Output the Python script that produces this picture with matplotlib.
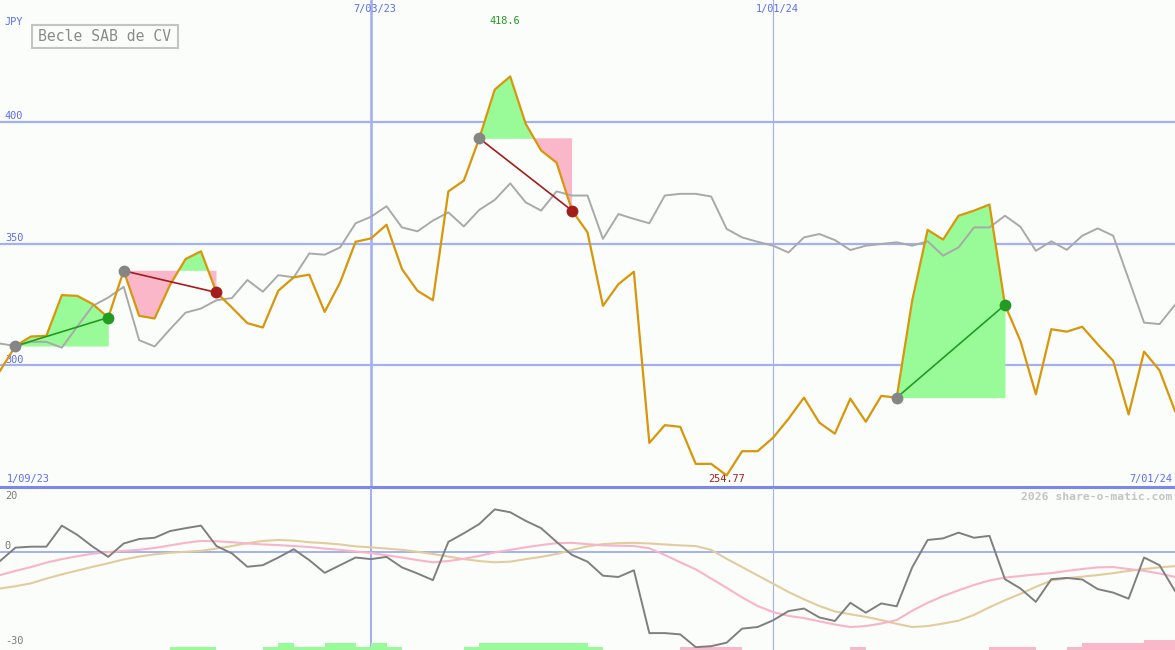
import numpy as np
import matplotlib.pyplot as plt
from matplotlib.patches import Rectangle

# weekly closes (JPY), index 0 = mid Jan 2023, one point per week
price = [297.7, 307.9, 311.8, 312.1, 328.8, 328.5, 325.1, 319.6, 338.8, 320.3,
         319.2, 333.0, 343.6, 346.8, 329.9, 323.7, 317.3, 315.5, 330.6, 336.1,
         337.2, 321.9, 334.0, 350.7, 352.1, 357.7, 339.5, 330.6, 326.7, 371.4,
         375.8, 393.2, 413.2, 418.6, 399.2, 388.2, 383.2, 363.5, 354.6, 324.4,
         333.3, 338.4, 268.1, 275.4, 274.7, 259.5, 259.5, 254.77, 264.7, 264.7,
         270.2, 278.0, 286.7, 276.4, 271.9, 286.3, 276.8, 287.4, 286.7, 326.5,
         355.6, 351.6, 361.4, 363.5, 366.0, 324.8, 310.0, 288.1, 314.8, 313.8,
         315.8, 308.6, 301.8, 279.8, 305.6, 297.9, 281.2]

# comparison line (grey)
bench = [308.9, 307.9, 309.6, 309.6, 307.2, 315.9, 324.4, 327.8, 332.2, 310.3,
         307.7, 314.8, 321.6, 323.3, 326.7, 327.6, 335.0, 330.2, 337.0, 336.1,
         345.9, 345.4, 348.4, 358.3, 361.0, 365.3, 356.6, 355.0, 359.4, 362.8,
         357.0, 363.8, 367.9, 374.7, 366.9, 363.5, 371.4, 369.7, 369.7, 351.9,
         362.1, 360.1, 358.3, 369.7, 370.4, 370.4, 369.3, 356.0, 352.5, 350.7,
         349.1, 346.3, 352.5, 353.9, 351.4, 347.3, 349.1, 349.8, 350.5, 349.1,
         350.9, 345.0, 348.4, 356.6, 356.6, 361.4, 356.9, 347.0, 350.9, 347.4,
         353.2, 356.2, 353.2, 335.4, 317.5, 316.9, 324.8]

# lower panel: momentum (dark grey) and two smoothed lines
momentum = [-2.9, 1.3, 1.6, 1.6, 8.2, 5.3, 1.6, -1.6, 2.6, 4.0,
            4.4, 6.5, 7.4, 8.2, 1.8, -0.5, -4.7, -4.2, -1.8, 0.8,
            -2.6, -6.6, -4.2, -1.8, -2.3, -1.6, -4.9, -6.8, -8.9, 3.1,
            5.8, 8.7, 13.3, 12.4, 9.7, 7.4, 3.1, -1.0, -3.1, -7.5,
            -7.9, -5.8, -25.5, -25.5, -25.9, -29.9, -29.6, -28.5, -24.1, -23.6,
            -21.5, -18.6, -17.8, -20.6, -21.7, -16.0, -19.1, -16.2, -17.1, -4.9,
            3.7, 4.2, 6.0, 4.4, 5.0, -8.6, -11.5, -15.7, -8.6, -8.2,
            -8.7, -11.7, -12.8, -14.7, -1.8, -4.2, -12.3]
smooth_pink = [-7.3, -6.0, -4.8, -3.4, -2.3, -1.4, -0.6, -0.1, 0.3, 0.6,
               1.2, 2.0, 2.8, 3.4, 3.3, 3.0, 2.6, 2.3, 2.1, 1.8,
               1.5, 1.0, 0.6, 0.1, -0.4, -1.1, -1.8, -2.6, -3.3, -2.9,
               -2.2, -1.3, -0.2, 0.6, 1.4, 2.1, 2.7, 2.8, 2.4, 2.0,
               1.9, 1.8, 1.1, -1.0, -3.3, -5.5, -8.4, -11.3, -14.3, -17.0,
               -18.9, -20.1, -20.8, -21.8, -22.8, -23.6, -23.3, -22.5, -21.4, -18.5,
               -16.0, -13.9, -12.1, -10.4, -9.0, -8.1, -7.6, -7.1, -6.7, -6.0,
               -5.4, -4.9, -4.8, -5.4, -6.0, -6.8, -7.9]
smooth_tan = [-11.5, -10.8, -9.9, -8.4, -7.1, -5.9, -4.7, -3.6, -2.4, -1.5,
              -0.8, -0.3, 0.0, 0.3, 1.0, 1.8, 2.7, 3.4, 3.7, 3.5,
              3.0, 2.7, 2.3, 1.7, 1.4, 1.0, 0.6, 0.0, -0.7, -1.5,
              -2.3, -2.9, -3.3, -3.1, -2.3, -1.6, -0.7, 0.6, 1.7, 2.4,
              2.7, 2.8, 2.6, 2.3, 2.0, 1.8, 0.6, -2.2, -4.8, -7.4,
              -10.0, -12.6, -14.9, -17.0, -18.7, -19.6, -20.4, -21.4, -22.6, -23.6,
              -23.3, -22.5, -21.6, -19.8, -17.4, -15.2, -13.2, -11.0, -9.0, -8.3,
              -7.8, -7.3, -6.7, -6.0, -5.4, -4.9, -4.5]

# signal bars at the bottom (+ green / - pink), one per week
signal = [0, 0, 0, 0, 0, 0, 0, 0, 0, 0,
          0, 1, 1, 1, 0, 0, 0, 1, 2, 1,
          1, 2, 2, 1, 2, 1, 0, 0, 0, 0,
          1, 2, 2, 2, 2, 2, 2, 2, 1, 0,
          0, 0, 0, 0, -1, -1, -1, -1, 0, 0,
          0, 0, 0, 0, 0, -1, 0, 0, 0, 0,
          0, 0, 0, 0, -1, -1, -1, 0, 0, -1,
          -2, -2, -2, -2, -3, -3]

# trades: entry week, exit week
trade_start = [1, 8, 31, 58]
trade_end = [7, 14, 37, 65]

date_labels = ['7/03/23', '1/01/24']
date_idx = [24, 50]

x = np.arange(len(price))
price = np.array(price)

blue = '#a3b1f2'
blue_txt = '#5c6cf0'
green_fill = '#98fb98'
pink_fill = '#f9b7c9'
dark_red = '#a51c1c'
dark_green = '#239b23'
mono = 'DejaVu Sans Mono'

fig = plt.figure(figsize=(11.75, 6.5), dpi=100, facecolor='#fbfdfb')
ax = fig.add_axes([0, 163 / 650, 1, 487 / 650])
ax2 = fig.add_axes([0, 0, 1, 162 / 650])
for a in (ax, ax2):
    a.set_facecolor('#fbfdfb')
    a.set_xlim(0, 76)
    a.axis('off')
ax.set_ylim(250, 450)
ax2.set_ylim(-30.8, 20)

# grid
for lvl in [300, 350, 400]:
    ax.axhline(lvl, color=blue, lw=1.6, zorder=1)
ax.axvline(date_idx[0], color=blue, lw=1.9, zorder=1)
ax.axvline(date_idx[1], color=blue, lw=0.8, zorder=1)
ax.axhline(250, color='#7a88ec', lw=2.2, zorder=6, clip_on=False)

# trade fills
for s, e in zip(trade_start, trade_end):
    xs = x[s:e + 1]
    ys = price[s:e + 1]
    base = price[s]
    ax.fill_between(xs, ys, base, where=ys >= base, interpolate=True,
                    color=green_fill, lw=0, zorder=2)
    ax.fill_between(xs, ys, base, where=ys <= base, interpolate=True,
                    color=pink_fill, lw=0, zorder=2)

ax.plot(x, bench, color='#a9a9a9', lw=1.4, zorder=3)
ax.plot(x, price, color='#d8960a', lw=1.6, zorder=4)

for s, e in zip(trade_start, trade_end):
    c = dark_green if price[e] >= price[s] else dark_red
    ax.plot([s, e], [price[s], price[e]], color=c, lw=1.2, zorder=5)
    ax.plot(s, price[s], 'o', color='#858585', ms=8.5, mec='none', zorder=6)
    ax.plot(e, price[e], 'o', color=c, ms=8.5, mec='none', zorder=6)

# max / min labels
imax = int(np.argmax(price))
imin = int(np.argmin(price))
ax.annotate(f'{price[imax]:g}', (imax, 1), xycoords=('data', 'axes fraction'),
            xytext=(-4, -15), textcoords='offset points', ha='center', va='center',
            color=dark_green, fontsize=7.4, family=mono)
ax.annotate(f'{price[imin]:g}', (imin, 250), xytext=(0, 6), textcoords='offset points',
            ha='center', va='center', color=dark_red, fontsize=7.4, family=mono)

# axis labels
for lvl in [300, 350, 400]:
    ax.annotate(str(lvl), (0, lvl), xytext=(3.5, 4), textcoords='offset points',
                ha='left', va='center', color=blue_txt, fontsize=7.4, family=mono)
ax.annotate('JPY', (0, 1), xycoords='axes fraction', xytext=(3.5, -15.5),
            textcoords='offset points', ha='left', va='center', color=blue_txt,
            fontsize=7.4, family=mono)
for d, lab in zip(date_idx, date_labels):
    ax.annotate(lab, (d, 1), xycoords=('data', 'axes fraction'), xytext=(3, -6.5),
                textcoords='offset points', ha='center', va='center', color=blue_txt,
                fontsize=7.4, family=mono)
ax.annotate('1/09/23', (0, 250), xytext=(5, 5.5), textcoords='offset points',
            ha='left', va='center', color=blue_txt, fontsize=7.4, family=mono)
ax.annotate('7/01/24', (76, 250), xytext=(-2, 5.5), textcoords='offset points',
            ha='right', va='center', color=blue_txt, fontsize=7.4, family=mono)

# title box
ax.add_patch(Rectangle((32 / 1175, 1 - 48 / 487), 146 / 1175, 23 / 487,
                       transform=ax.transAxes, fill=False, ec='#c4c4c4', lw=1.5,
                       zorder=7))
ax.text(105 / 1175, 1 - 36.5 / 487, 'Becle SAB de CV', transform=ax.transAxes,
        ha='center', va='center', color='#8a8a8a', fontsize=10.6, family=mono,
        zorder=7)

# lower panel
ax2.axhline(0, color=blue, lw=1.4, zorder=1)
ax2.axvline(date_idx[0], color=blue, lw=1.5, zorder=1)
ax2.axvline(date_idx[1], color=blue, lw=0.8, zorder=1)
sig = np.array(signal)
bar_unit = 1.05
ax2.bar(np.arange(len(sig)), np.abs(sig) * bar_unit, width=1, align='edge',
        bottom=-30.8, color=np.where(sig > 0, green_fill, pink_fill), lw=0, zorder=2)
ax2.plot(x, smooth_tan, color='#e2cc9c', lw=1.5, zorder=3)
ax2.plot(x, smooth_pink, color='#f8b4c8', lw=1.5, zorder=3)
ax2.plot(x, momentum, color='#7f7f7f', lw=1.4, zorder=4)

for val, dy in [('20', -6), ('0', 4), ('-30', 6.5)]:
    yv = {'20': 20, '0': 0, '-30': -30.8}[val]
    ax2.annotate(val, (0, yv), xytext=(3.5, dy), textcoords='offset points',
                 ha='left', va='center', color='#7a7a7a', fontsize=7.4, family=mono)
ax2.annotate('2026 share-o-matic.com', (76, 20), xytext=(-2, -6.5),
             textcoords='offset points', ha='right', va='center', color='#c4c4c4',
             fontsize=8.2, family=mono, fontweight='bold')

plt.savefig('out.png', dpi=100, facecolor=fig.get_facecolor())
